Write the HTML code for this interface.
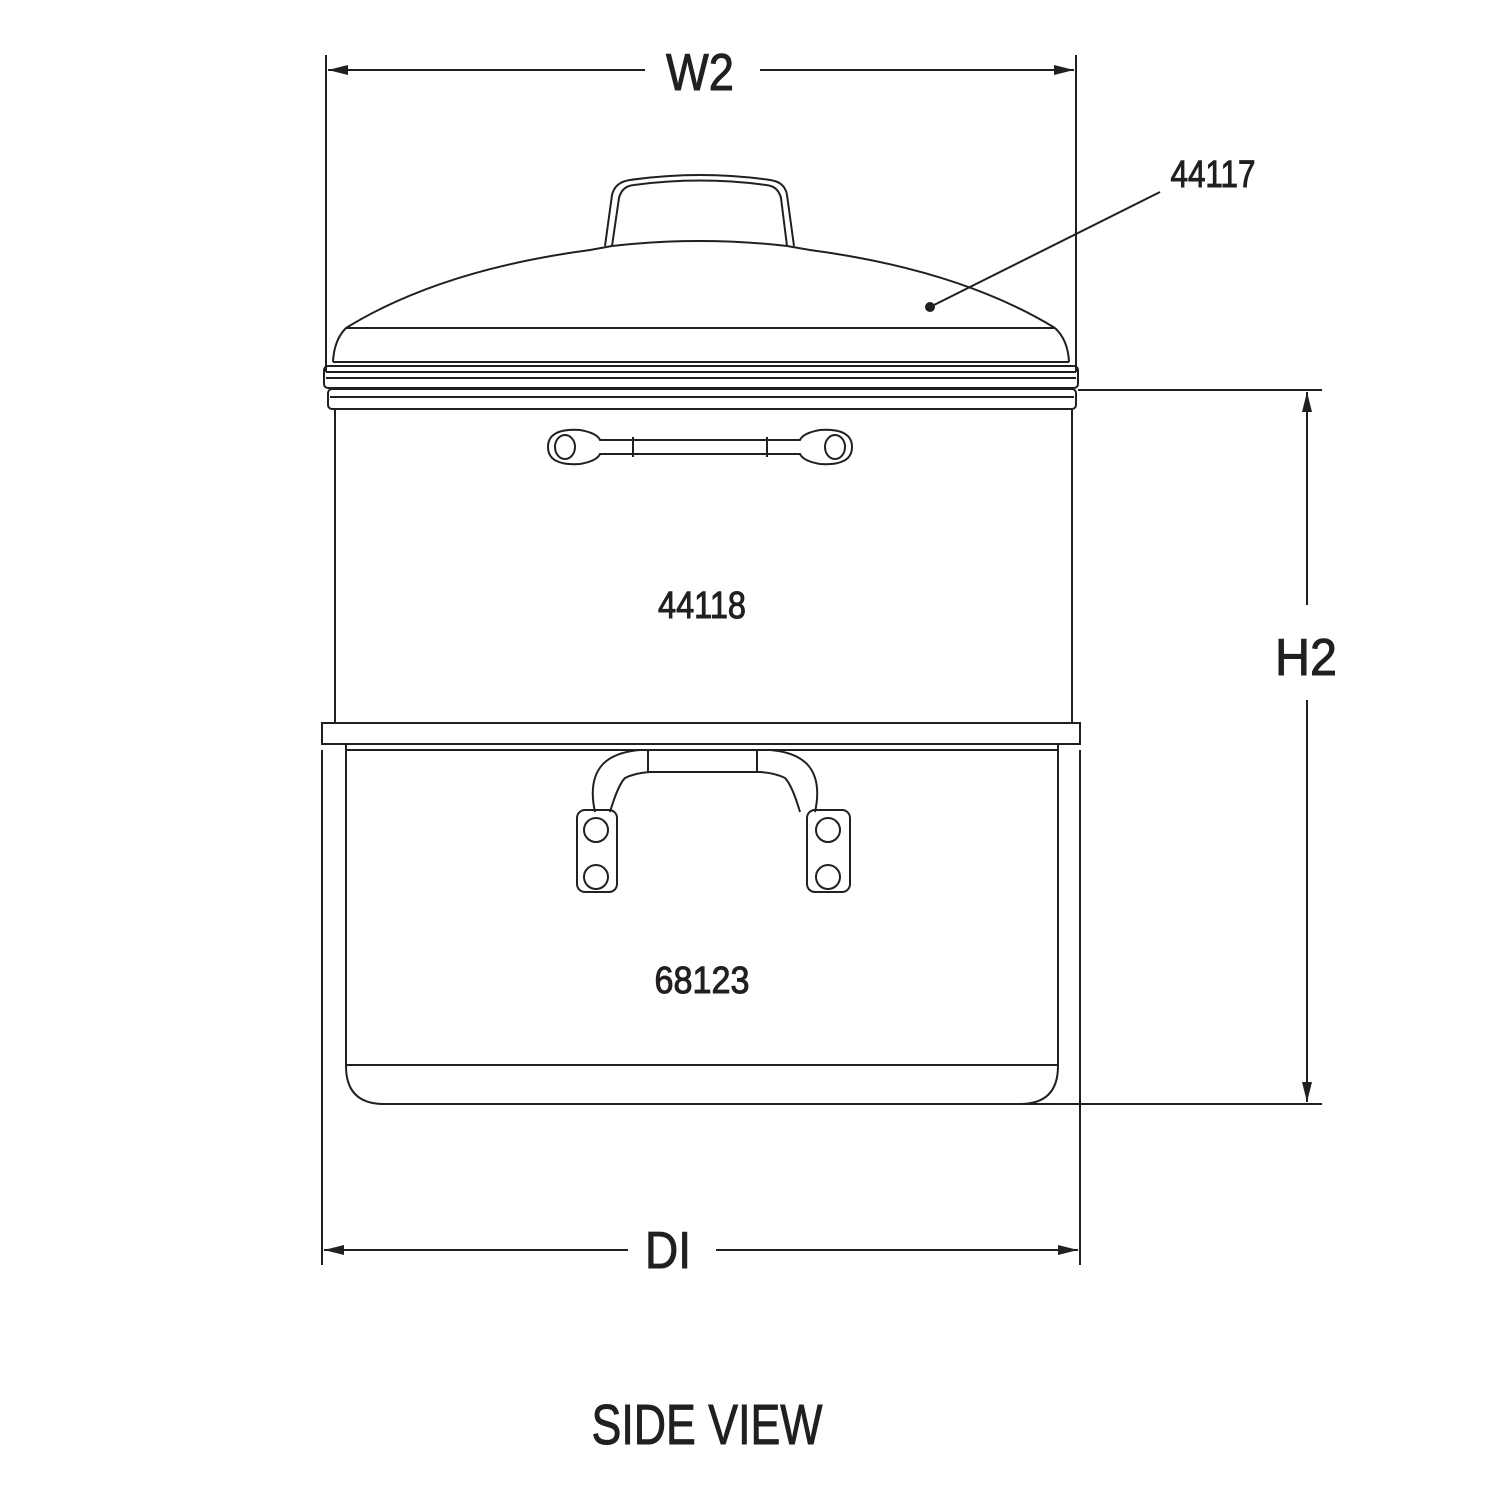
<!DOCTYPE html>
<html><head><meta charset="utf-8"><style>html,body{margin:0;padding:0;background:#fff}svg{display:block}</style></head>
<body>
<svg width="1500" height="1500" viewBox="0 0 1500 1500" xmlns="http://www.w3.org/2000/svg" font-family="Liberation Sans, sans-serif" fill="none" stroke="#231f20">
<defs>
<marker id="ar" viewBox="0 0 20 10" refX="20" refY="5" markerWidth="20" markerHeight="10" markerUnits="userSpaceOnUse" orient="auto"><path d="M0,0 L20,5 L0,10 Z" fill="#231f20" stroke="none"/></marker>
</defs>
<g stroke-width="2">
<line x1="326" y1="55" x2="326" y2="372"/>
<line x1="1076" y1="55" x2="1076" y2="372"/>
<line x1="645" y1="70" x2="328" y2="70" marker-end="url(#ar)"/>
<line x1="760" y1="70" x2="1074" y2="70" marker-end="url(#ar)"/>
<line x1="322" y1="750" x2="322" y2="1265"/>
<line x1="1080" y1="750" x2="1080" y2="1265"/>
<line x1="628" y1="1250" x2="324" y2="1250" marker-end="url(#ar)"/>
<line x1="716" y1="1250" x2="1078" y2="1250" marker-end="url(#ar)"/>
<line x1="1078" y1="390" x2="1322" y2="390"/>
<line x1="1020" y1="1104" x2="1322" y2="1104"/>
<line x1="1307" y1="605" x2="1307" y2="392" marker-end="url(#ar)"/>
<line x1="1307" y1="700" x2="1307" y2="1102" marker-end="url(#ar)"/>
<line x1="930" y1="307" x2="1160" y2="192"/>
<circle cx="930" cy="307" r="4" fill="#231f20"/>
<path d="M605,246 L612,195 Q615,182 630,180 Q700,170 770,180 Q785,182 787,195 L794,246"/>
<path d="M612,246 L619,198 Q622,186 634,185 Q700,176 766,185 Q778,186 781,198 L787,246"/>
<path d="M612,246 Q700,236 787,246"/>
<path d="M346,328 Q440,270 590,250 L612,246 M787,246 L810,250 Q960,270 1055,328"/>
<line x1="346" y1="328" x2="1055" y2="328"/>
<path d="M346,328 Q334,340 333,362 M1055,328 Q1068,340 1069,362"/>
<line x1="333" y1="362" x2="1069" y2="362"/>
<rect x="324" y="366" width="754" height="22" rx="4"/>
<line x1="326" y1="372" x2="1076" y2="372"/>
<line x1="326" y1="378" x2="1076" y2="378"/>
<rect x="328" y="389" width="748" height="20" rx="4"/>
<line x1="330" y1="397" x2="1074" y2="397"/>
<line x1="335" y1="409" x2="335" y2="722"/>
<line x1="1072" y1="409" x2="1072" y2="722"/>
<path d="M580,430 Q597,433 600,440 L800,440 Q803,433 820,430 Q852,428 852,447 Q852,466 820,464 Q803,461 800,454 L600,454 Q597,461 580,464 Q548,466 548,447 Q548,428 580,430 Z"/>
<ellipse cx="565" cy="447" rx="10" ry="12"/>
<ellipse cx="835" cy="447" rx="10" ry="12"/>
<line x1="633" y1="437" x2="633" y2="457"/>
<line x1="767" y1="437" x2="767" y2="457"/>
<rect x="322" y="723" width="758" height="21"/>
<path d="M346,745 L346,1066 Q346,1104 384,1104 L1020,1104 Q1058,1104 1058,1066 L1058,745"/>
<line x1="346" y1="750" x2="1058" y2="750"/>
<line x1="346" y1="1065" x2="1058" y2="1065"/>
<path d="M595,812 Q588,780 603,764 Q615,752 640,750 L770,750 Q795,752 807,764 Q822,780 815,812"/>
<path d="M610,812 Q618,785 625,778 Q635,773 650,772 L760,772 Q775,773 785,778 Q792,785 800,812"/>
<line x1="757" y1="750" x2="757" y2="773"/><line x1="648" y1="750" x2="648" y2="773"/>
<rect x="577" y="810" width="40" height="82" rx="8"/>
<rect x="807" y="810" width="43" height="82" rx="8"/>
<circle cx="596" cy="830" r="12"/><circle cx="596" cy="877" r="12"/>
<circle cx="828" cy="830" r="12"/><circle cx="828" cy="877" r="12"/>
</g>
<g fill="#231f20" stroke="#231f20" stroke-width="1">
<text x="700" y="90" font-size="52" text-anchor="middle" textLength="68" lengthAdjust="spacingAndGlyphs">W2</text>
<text x="668" y="1268" font-size="52" text-anchor="middle" textLength="46" lengthAdjust="spacingAndGlyphs">DI</text>
<text x="1306" y="675" font-size="52" text-anchor="middle" textLength="62" lengthAdjust="spacingAndGlyphs">H2</text>
<text x="1213" y="187" font-size="38" text-anchor="middle" textLength="85" lengthAdjust="spacingAndGlyphs">44117</text>
<text x="702" y="618" font-size="38" text-anchor="middle" textLength="88" lengthAdjust="spacingAndGlyphs">44118</text>
<text x="702" y="993" font-size="38" text-anchor="middle" textLength="95" lengthAdjust="spacingAndGlyphs">68123</text>
<text x="707" y="1444" font-size="57" text-anchor="middle" textLength="231" lengthAdjust="spacingAndGlyphs">SIDE VIEW</text>
</g>
</svg>
</body></html>
